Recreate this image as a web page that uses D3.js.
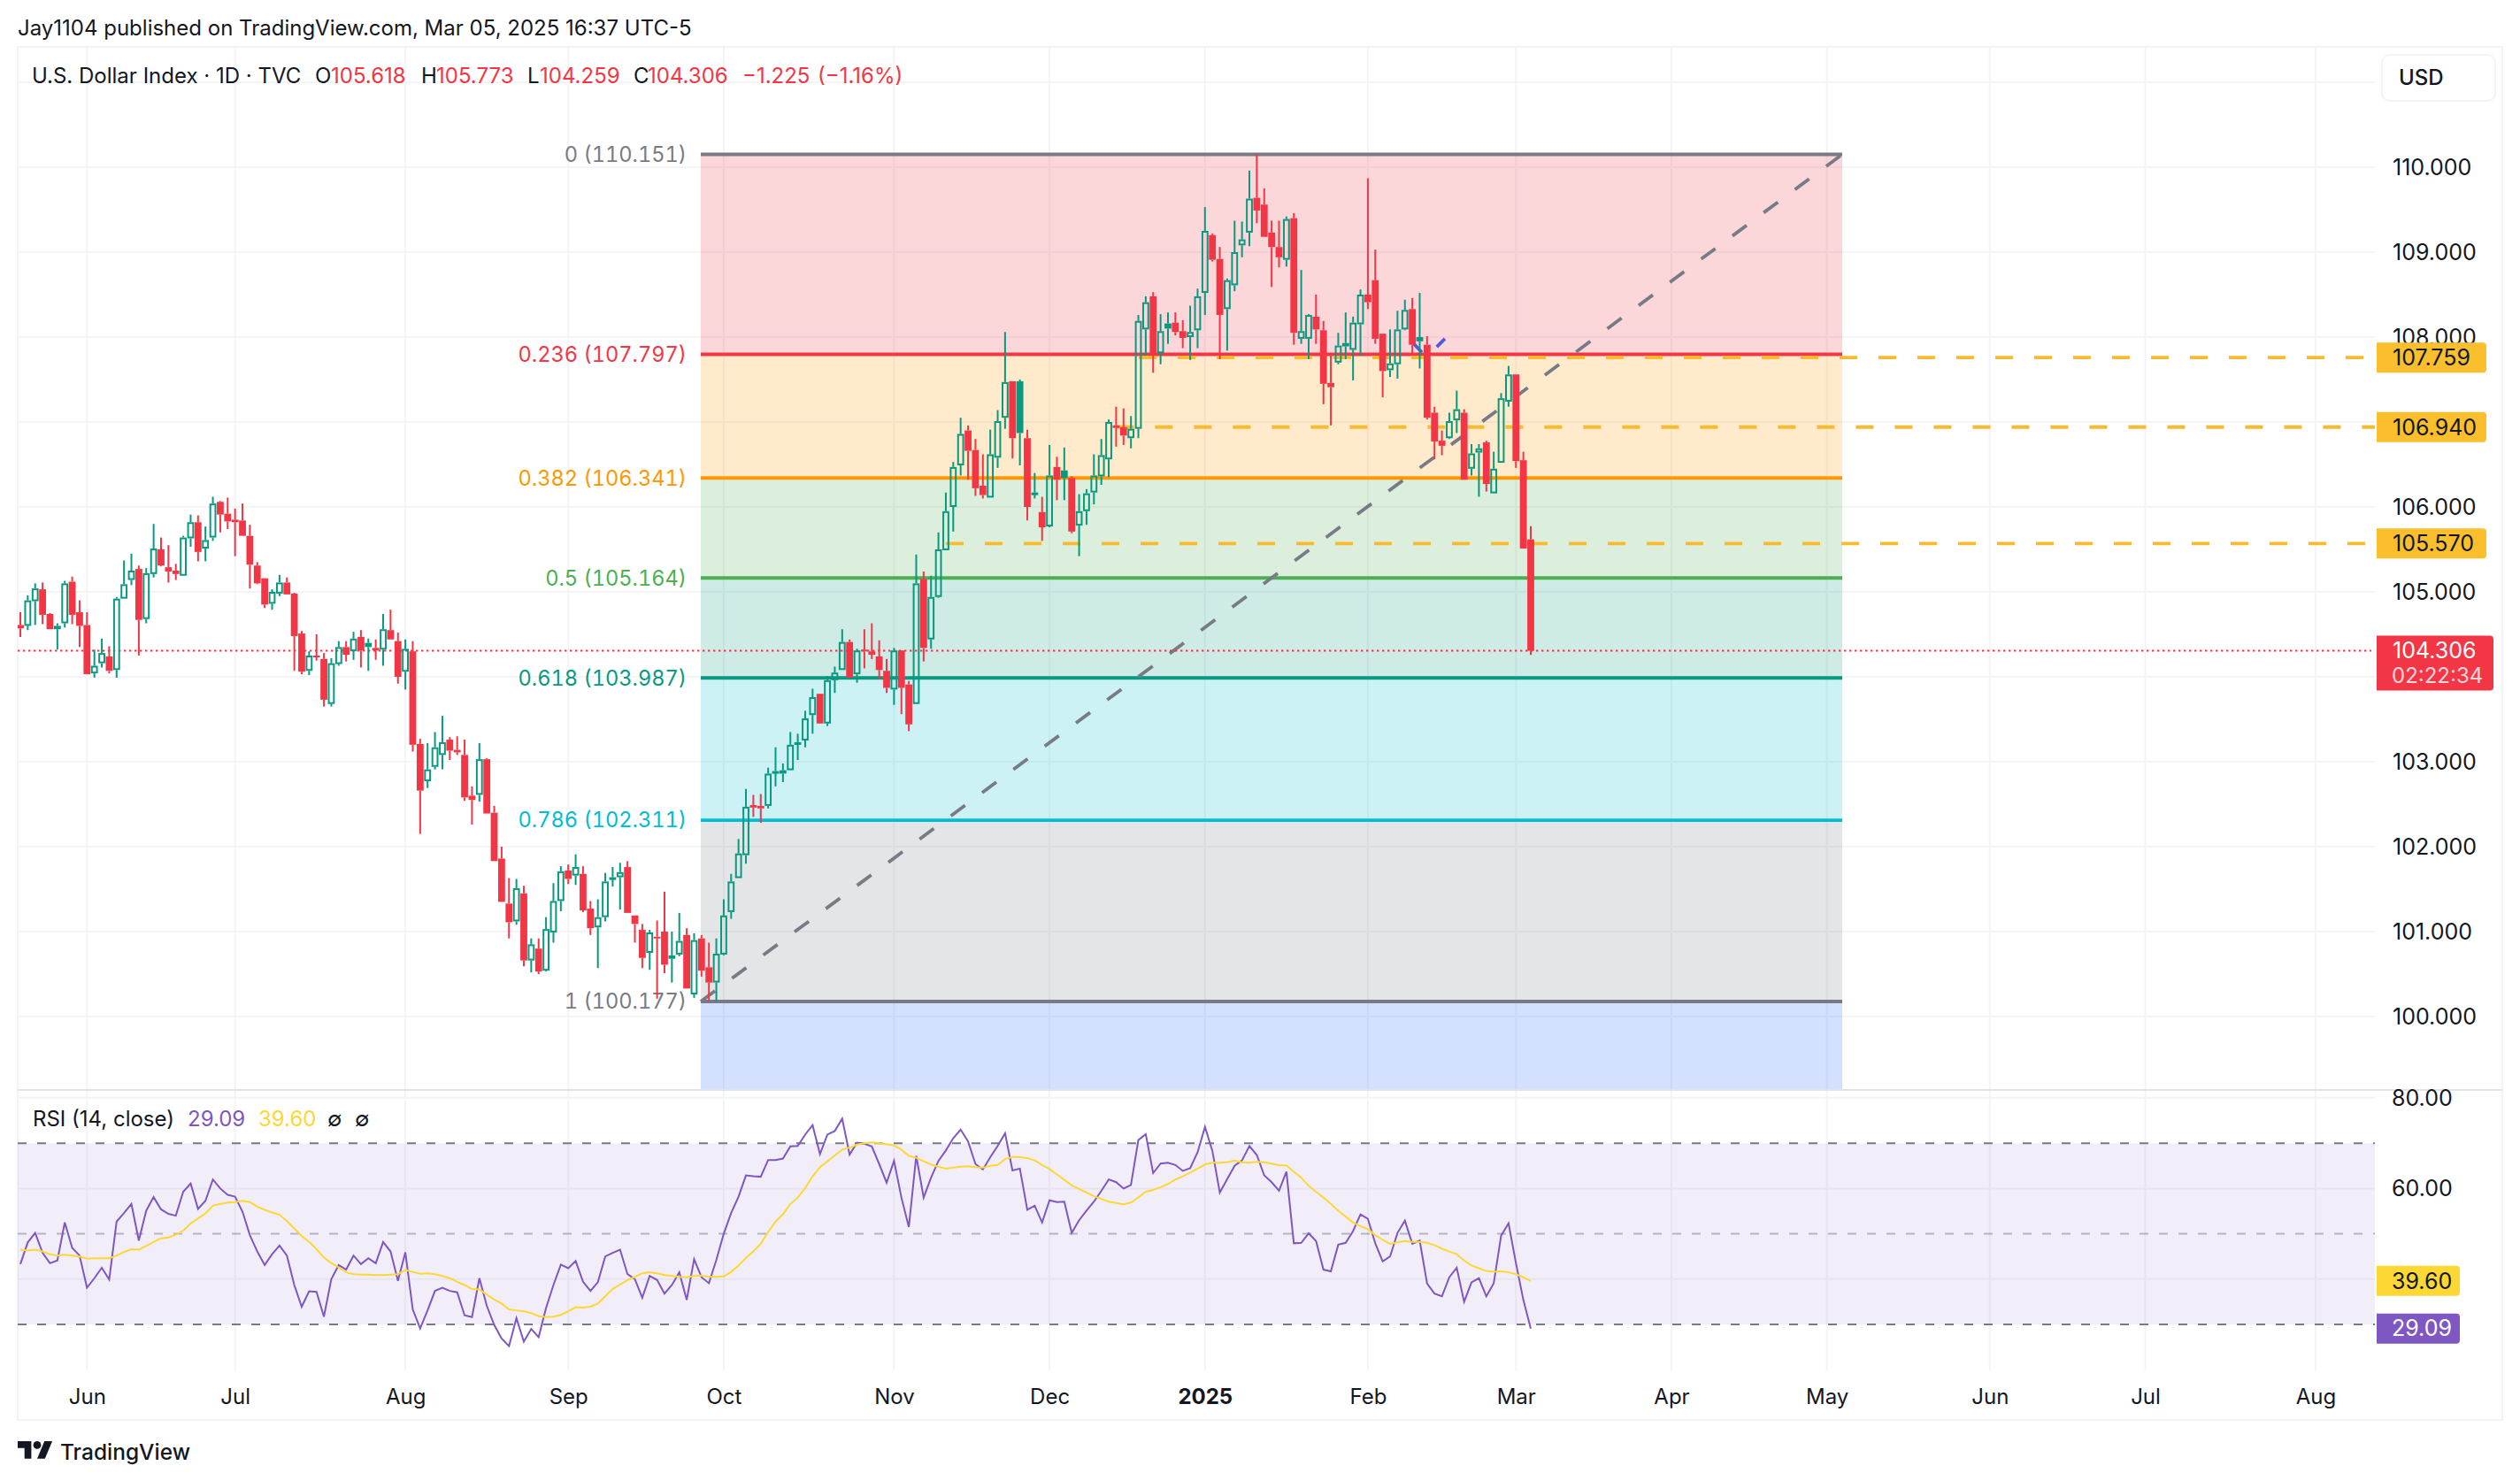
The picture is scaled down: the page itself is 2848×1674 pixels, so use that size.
<!DOCTYPE html>
<html>
<head>
<meta charset="utf-8">
<script src="https://d3js.org/d3.v7.min.js"></script>
<style>
  html, body { margin: 0; padding: 0; background: #fff; }
  svg { display: block; }
  text { font-family: Inter, "Noto Sans", sans-serif; fill: #131722; }
  text.fib { font-feature-settings: "tnum"; font-variant-numeric: tabular-nums; }
</style>
</head>
<body>
<div id="chart"></div>
<script>
// daily candles, U.S. Dollar Index
var open = [
  104.61,104.60,104.89,105.03,104.74,104.60,104.63,105.12,104.76,104.61,
  104.04,104.16,104.24,104.08,104.92,105.14,105.27,104.68,105.21,105.50,
  105.29,105.25,105.19,105.63,105.82,105.51,105.64,106.06,105.92,105.85,
  105.84,105.66,105.31,105.16,104.86,104.98,105.11,104.98,104.51,104.07,
  104.25,104.21,103.68,104.15,104.35,104.30,104.47,104.40,104.34,104.32,
  104.55,104.42,104.06,104.30,103.21,102.77,102.94,103.08,103.26,103.14,
  103.08,102.60,102.61,103.03,102.40,101.86,101.33,101.12,101.45,100.66,
  100.80,100.54,100.99,101.36,101.72,101.66,101.68,101.27,101.05,101.17,
  101.62,101.64,101.76,101.19,101.02,100.75,100.94,101.00,100.68,100.73,
  100.96,100.26,100.92,100.58,100.40,100.73,101.23,101.63,101.90,102.49,
  102.48,102.48,102.87,102.86,102.90,103.21,103.25,103.55,103.80,103.45,
  103.96,104.08,104.41,104.03,104.32,104.30,104.24,104.07,103.85,104.31,
  103.91,103.68,105.15,104.44,104.94,105.49,106.00,106.49,106.90,106.67,
  106.25,106.11,106.58,107.05,107.48,107.48,106.81,106.15,105.94,105.77,
  106.47,106.43,106.34,105.78,105.95,106.17,106.36,106.56,106.96,106.94,
  106.81,106.92,108.09,108.48,107.81,108.16,108.17,108.07,108.00,108.08,
  108.52,109.20,108.92,108.33,108.61,109.08,109.23,109.64,109.56,109.23,
  109.06,108.91,109.40,107.98,107.98,108.24,108.08,107.46,107.70,107.89,
  107.85,108.15,108.50,108.67,108.04,107.61,107.68,108.09,108.33,108.00,
  107.91,107.11,106.78,106.81,107.02,107.11,106.45,106.64,106.76,106.16,
  106.52,107.24,107.56,106.55,105.618];
var high = [
  104.76,104.96,105.10,105.11,104.75,104.63,105.13,105.18,104.90,104.76,
  104.32,104.45,104.36,104.94,105.37,105.45,105.31,105.28,105.80,105.64,
  105.55,105.33,105.66,105.91,105.90,105.77,106.12,106.07,106.11,105.98,
  106.04,105.79,105.35,105.16,105.03,105.20,105.17,104.99,104.54,104.30,
  104.50,104.28,104.22,104.42,104.42,104.53,104.55,104.45,104.44,104.74,
  104.79,104.52,104.44,104.42,103.27,103.22,103.35,103.54,103.29,103.30,
  103.26,102.71,103.22,103.04,102.48,102.00,101.63,101.62,101.54,100.92,
  100.92,101.17,101.57,101.77,101.79,101.91,101.77,101.36,101.38,101.69,
  101.76,101.81,101.83,101.19,101.09,101.02,101.13,101.47,101.00,101.22,
  101.04,100.98,100.96,100.87,100.92,101.38,101.68,102.09,102.68,102.61,
  102.62,102.93,103.17,102.98,103.35,103.33,103.60,103.86,103.80,104.01,
  104.12,104.56,104.44,104.33,104.56,104.63,104.43,104.21,104.34,104.31,
  103.95,105.44,105.24,105.19,105.70,106.17,106.53,107.05,106.96,106.80,
  106.62,106.91,107.14,108.06,107.48,107.50,106.91,106.40,106.12,106.73,
  106.59,106.70,106.36,106.15,106.21,106.62,106.80,107.03,107.18,107.16,
  107.07,108.26,108.48,108.53,108.27,108.29,108.29,108.20,108.37,108.57,
  109.53,109.22,109.06,108.69,109.37,109.36,109.96,110.15,109.75,109.37,
  109.37,109.42,109.46,108.79,108.27,108.50,108.19,107.81,108.05,108.29,
  108.24,108.56,109.87,109.03,108.04,108.09,108.31,108.44,108.46,108.52,
  108.01,107.18,106.90,107.11,107.37,107.15,106.74,106.74,106.78,106.65,
  107.34,107.66,107.56,106.65,105.773];
var low = [
  104.47,104.55,104.61,104.62,104.56,104.32,104.58,104.62,104.35,104.03,
  103.99,104.11,104.04,103.99,104.92,105.08,104.25,104.63,105.17,105.30,
  105.11,105.14,105.19,105.53,105.36,105.36,105.60,105.70,105.74,105.42,
  105.66,105.04,105.09,104.81,104.79,104.95,104.97,104.07,104.03,104.02,
  104.19,103.65,103.65,104.13,104.18,104.20,104.11,104.07,104.20,104.13,
  104.44,103.92,103.85,103.12,102.15,102.69,102.91,102.91,103.02,103.08,
  102.54,102.26,102.53,102.39,101.83,101.35,100.92,101.08,100.59,100.52,
  100.50,100.53,100.87,101.24,101.56,101.55,101.23,100.96,100.57,101.12,
  101.53,101.26,101.22,100.87,100.57,100.55,100.21,100.51,100.40,100.71,
  100.33,100.22,100.47,100.18,100.18,100.72,101.15,101.63,101.80,102.35,
  102.28,102.45,102.71,102.76,102.90,103.02,103.17,103.33,103.45,103.42,
  103.81,104.08,103.99,103.93,104.10,104.21,103.97,103.81,103.67,103.56,
  103.36,103.68,104.18,104.33,104.93,105.49,105.71,106.37,106.32,106.13,
  106.10,106.11,106.46,106.92,106.57,106.49,105.84,106.10,105.60,105.76,
  106.08,106.08,105.69,105.42,105.79,106.03,106.26,106.35,106.71,106.73,
  106.69,106.81,107.78,107.58,107.68,107.92,108.02,107.87,107.73,107.87,
  108.26,108.89,107.74,107.84,108.54,108.94,109.07,109.34,109.18,108.59,
  108.82,108.83,107.91,107.92,107.74,107.92,107.21,106.96,107.68,107.74,
  107.49,107.78,108.33,107.92,107.29,107.53,107.51,108.08,107.80,107.63,
  107.03,106.56,106.61,106.80,106.87,106.32,106.37,106.12,106.18,106.16,
  106.52,107.18,106.46,105.51,104.259];
var close = [
  104.57,104.90,105.04,104.73,104.56,104.56,105.10,104.73,104.60,104.03,
  104.13,104.28,104.07,104.92,105.09,105.25,104.67,105.22,105.51,105.31,
  105.24,105.21,105.64,105.82,105.47,105.61,106.04,105.91,105.83,105.82,
  105.66,105.32,105.10,104.85,105.00,105.11,104.97,104.48,104.06,104.25,
  104.23,103.73,104.16,104.35,104.26,104.45,104.31,104.35,104.31,104.56,
  104.44,104.00,104.33,103.20,102.66,102.91,103.17,103.23,103.13,103.11,
  102.58,102.55,103.03,102.39,101.83,101.35,101.11,101.51,100.66,100.85,
  100.53,101.03,101.36,101.71,101.62,101.76,101.25,101.04,101.17,101.59,
  101.64,101.70,101.22,101.09,100.69,100.99,100.92,100.61,100.72,100.89,
  100.33,100.90,100.54,100.40,100.74,101.19,101.59,101.92,102.47,102.46,
  102.45,102.86,102.89,102.90,103.20,103.23,103.51,103.76,103.45,103.96,
  104.05,104.41,103.99,104.31,104.30,104.26,104.08,103.87,104.31,103.87,
  103.44,105.10,104.34,104.94,105.50,105.95,106.47,106.86,106.66,106.22,
  106.14,106.62,107.01,107.47,106.81,106.87,106.00,106.17,105.76,106.37,
  106.32,106.34,105.71,105.95,106.16,106.37,106.61,107.00,106.93,106.84,
  106.92,108.19,108.41,107.79,108.07,108.10,108.06,107.99,108.06,108.48,
  109.25,108.91,108.26,108.67,109.00,109.15,109.63,109.49,109.18,109.06,
  108.94,109.39,108.05,108.07,108.26,108.09,107.45,107.41,107.90,107.93,
  108.17,108.50,108.41,107.98,107.60,107.69,108.09,108.32,107.91,107.95,
  107.05,106.77,106.72,107.01,107.15,106.32,106.63,106.69,106.27,106.45,
  107.28,107.56,106.54,105.51,104.306];

var rsi = [
  43.3,48.1,50.2,45.8,43.5,44.1,52.5,46.9,45.2,38.1,
  40.2,42.5,39.9,52.7,54.6,56.6,48.5,55.1,58.1,55.4,
  54.4,54.0,59.3,61.1,55.5,57.3,62.0,60.0,58.6,58.2,
  54.9,49.7,46.1,43.1,45.5,47.4,45.2,38.7,33.9,37.3,
  37.2,31.7,40.0,43.1,42.1,45.2,43.3,44.6,43.5,48.2,
  46.1,39.6,45.9,33.3,29.1,33.1,37.4,38.1,37.4,37.1,
  32.0,31.6,40.2,34.1,29.9,26.9,25.2,31.4,26.2,29.0,
  27.2,33.6,38.7,43.2,42.4,44.0,39.4,37.4,39.3,45.0,
  45.8,46.5,41.1,40.0,35.9,40.7,39.8,36.8,38.7,41.5,
  35.4,44.4,40.4,39.1,44.2,50.0,54.6,58.2,62.9,62.7,
  62.6,66.3,66.3,66.6,69.3,69.4,71.9,74.0,67.6,71.9,
  72.7,75.4,67.5,70.1,69.9,69.3,65.4,61.3,66.1,58.0,
  51.5,67.2,58.0,62.4,66.1,68.4,71.1,73.0,70.4,65.4,
  64.2,66.9,69.4,72.2,64.0,64.4,55.3,56.2,52.5,57.4,
  57.0,57.1,50.2,53.0,55.1,57.1,59.5,62.0,61.4,60.0,
  60.8,70.7,72.0,63.4,65.5,65.7,65.2,63.9,64.5,68.0,
  73.6,68.3,59.1,62.1,65.0,66.2,69.4,67.4,62.9,61.4,
  59.5,63.7,47.9,48.0,50.1,48.4,42.1,41.7,47.6,48.0,
  50.6,54.3,53.3,47.9,43.9,45.0,50.2,52.9,47.8,48.5,
  39.0,36.8,36.2,40.4,42.5,35.0,39.3,40.2,36.2,39.1,
  49.6,52.3,43.5,35.4,29.09];
var rsiMa = [
  46.5,46.3,46.5,46.1,45.5,45.2,45.4,45.2,45.0,44.5,
  44.6,44.6,44.6,45.2,46.0,46.6,46.5,47.3,48.2,49.0,
  49.2,49.8,50.7,52.3,53.4,54.5,56.2,56.6,56.9,57.0,
  57.3,57.0,56.0,55.3,54.7,54.2,52.8,51.2,49.5,48.2,
  46.6,44.8,43.5,42.6,41.5,41.1,41.0,41.0,40.9,40.9,
  41.0,41.1,42.0,41.6,41.2,41.3,41.1,40.7,40.2,39.4,
  38.7,37.8,37.7,36.6,35.5,34.6,33.3,33.1,32.9,32.5,
  31.8,31.6,31.7,32.1,32.9,33.8,33.7,33.9,34.6,36.2,
  37.8,38.8,39.8,40.5,41.3,41.5,41.3,40.9,40.7,40.5,
  40.4,40.7,40.8,40.5,40.5,40.6,41.6,43.0,44.7,46.1,
  47.8,50.4,52.7,54.3,56.6,58.0,60.1,62.7,64.7,66.0,
  67.3,68.6,69.0,69.7,70.0,70.2,70.0,69.8,69.5,68.6,
  67.2,66.8,66.0,65.3,64.8,64.4,64.6,64.8,64.9,64.7,
  64.6,65.0,65.2,66.5,67.0,66.9,66.7,66.2,65.2,64.3,
  63.1,61.9,60.7,59.9,59.1,58.3,57.7,57.1,56.8,56.5,
  56.9,58.0,59.3,59.7,60.3,61.0,62.0,62.7,63.5,64.4,
  65.3,65.7,65.7,65.8,66.2,65.8,65.7,65.9,65.8,65.5,
  65.1,65.1,63.7,62.4,60.6,59.3,58.0,56.6,55.1,53.8,
  52.5,51.7,51.0,49.7,48.7,47.8,48.1,48.4,48.2,48.2,
  48.0,47.5,46.7,46.1,45.5,44.1,43.0,42.4,41.8,41.6,
  41.7,41.5,41.1,40.4,39.6];

var monthTicks = [9,29,52,74,95,118,139,160,182,202,223,244,266,287,310];
var monthLabels = ["Jun","Jul","Aug","Sep","Oct","Nov","Dec","2025","Feb","Mar","Apr","May","Jun","Jul","Aug"];
// 104, 107 and 40 sit fully behind the value tags, so they get no label
var priceTicks = [100,101,102,103,105,106,108,109,110];
var priceGrid = [100,101,102,103,104,105,106,107,108,109,110,111];
var rsiTicks = [80,60];
var rsiGrid = [80,60,40];

var fibRatios = ["0","0.236","0.382","0.5","0.618","0.786","1"];
var fibPrices = [110.151,107.797,106.341,105.164,103.987,102.311,100.177];
var fibColors = ["#787b86","#f23645","#ff9800","#4caf50","#089981","#00bcd4","#787b86"];
var fibFills = ["#f23645","#ff9800","#4caf50","#089981","#00bcd4","#787b86","#2962ff"];

// horizontal levels drawn by the author, each starts at a bar index
var levelPrices = [107.759,106.940,105.570];
var levelStarts = [151.05,148,125];
var lastPrice = 104.306;
var lastRsi = 29.09, lastMa = 39.60;

// short blue dashed segments near the top of the trend line
var blueA = {idx: [188.2,189.3], price: [107.92,107.82]};
var blueB = {idx: [191.3,192.4], price: [107.885,107.98]};

var W = 2848, H = 1674;
var left = 20, right = 2828, top_ = 53, bottom = 1605;
var paneRight = 2684, mainBottom = 1232, rsiBottom = 1549;
var red = "#f23645", green = "#089981";

var x = d3.scaleLinear().domain([0,204]).range([23,1730]);
var y = d3.scaleLinear().domain([100,110]).range([1149,189]);
var yRsi = d3.scaleLinear().domain([80,30]).range([1241,1497]);

var svg = d3.select("#chart").append("svg")
  .attr("width", W).attr("height", H).attr("viewBox", "0 0 " + W + " " + H);

svg.append("clipPath").attr("id","mainClip").append("rect")
  .attr("x",left).attr("y",top_).attr("width",paneRight-left).attr("height",mainBottom-top_);
svg.append("clipPath").attr("id","rsiClip").append("rect")
  .attr("x",left).attr("y",mainBottom).attr("width",paneRight-left).attr("height",rsiBottom-mainBottom);

// frame and separators
svg.append("rect").attr("x",left).attr("y",top_).attr("width",right-left).attr("height",bottom-top_)
  .attr("fill","none").attr("stroke","#f2f3f5").attr("stroke-width",2);

// grid
var grid = svg.append("g").attr("stroke","#f3f4f6").attr("stroke-width",2);
grid.selectAll("line.h").data(priceGrid).enter().append("line").attr("class","h")
  .attr("x1",left).attr("x2",paneRight)
  .attr("y1",function(d){ return y(d); }).attr("y2",function(d){ return y(d); });
grid.selectAll("line.r").data(rsiGrid).enter().append("line").attr("class","r")
  .attr("x1",left).attr("x2",paneRight)
  .attr("y1",function(d){ return yRsi(d); }).attr("y2",function(d){ return yRsi(d); });
grid.selectAll("line.v").data(monthTicks).enter().append("line").attr("class","v")
  .attr("x1",function(d){ return x(d); }).attr("x2",function(d){ return x(d); })
  .attr("y1",top_).attr("y2",rsiBottom);
svg.append("line").attr("x1",left).attr("x2",right).attr("y1",mainBottom).attr("y2",mainBottom)
  .attr("stroke","#e0e3eb").attr("stroke-width",2);

// fib fills
var fibLeft = 792, fibRight = 2082;
var fib = svg.append("g").attr("clip-path","url(#mainClip)");
fib.selectAll("rect").data(fibFills).enter().append("rect")
  .attr("x",fibLeft).attr("width",fibRight-fibLeft)
  .attr("y",function(d,i){ return y(fibPrices[i]); })
  .attr("height",function(d,i){
    var b = i < fibPrices.length-1 ? y(fibPrices[i+1]) : mainBottom-1;
    return b - y(fibPrices[i]);
  })
  .attr("fill",function(d){ return d; }).attr("fill-opacity",0.2);

// trend line across the fib
svg.append("line")
  .attr("x1",fibLeft).attr("y1",y(fibPrices[6])).attr("x2",fibRight).attr("y2",y(fibPrices[0]))
  .attr("stroke","#787b86").attr("stroke-width",3.8).attr("stroke-dasharray","20 24");

// fib lines
fib.selectAll("line").data(fibPrices).enter().append("line")
  .attr("x1",fibLeft).attr("x2",fibRight)
  .attr("y1",function(d){ return y(d); }).attr("y2",function(d){ return y(d); })
  .attr("stroke",function(d,i){ return fibColors[i]; }).attr("stroke-width",3.8);

svg.selectAll("text.fib").data(fibPrices).enter().append("text").attr("class","fib")
  .attr("x",776).attr("y",function(d){ return y(d); }).attr("dy","0.35em")
  .attr("text-anchor","end").attr("font-size",23.6)
  .style("fill",function(d,i){ return fibColors[i]; })
  .text(function(d,i){ return fibRatios[i] + " (" + d3.format(".3f")(d) + ")"; });

// dashed levels
svg.selectAll("line.level").data(levelPrices).enter().append("line").attr("class","level")
  .attr("x1",function(d,i){ return x(levelStarts[i]); }).attr("x2",paneRight)
  .attr("y1",function(d){ return y(d); }).attr("y2",function(d){ return y(d); })
  .attr("stroke","#fbb92d").attr("stroke-width",3.8).attr("stroke-dasharray","20 24");

// last price dotted line
svg.append("line").attr("x1",left).attr("x2",2680)
  .attr("y1",y(lastPrice)).attr("y2",y(lastPrice))
  .attr("stroke",red).attr("stroke-width",2).attr("stroke-dasharray","2.4 3.6");

// blue dashes
var blueLine = d3.line().x(function(d){ return x(d[0]); }).y(function(d){ return y(d[1]); });
[blueA,blueB].forEach(function(s){
  svg.append("path").attr("d",blueLine(d3.zip(s.idx,s.price)))
    .attr("stroke","#4f5bdc").attr("stroke-width",3.8).attr("fill","none");
});

// candles
var bars = d3.range(open.length).map(function(i){
  return {i:i, o:open[i], h:high[i], l:low[i], c:close[i], prev: i>0 ? close[i-1] : open[i]};
});
function barColor(d){ return d.c >= d.prev ? green : red; }
var bodyW = 7.8;

var candles = svg.append("g").attr("clip-path","url(#mainClip)");
var candle = candles.selectAll("g").data(bars).enter().append("g");
candle.append("line")
  .attr("x1",function(d){ return x(d.i); }).attr("x2",function(d){ return x(d.i); })
  .attr("y1",function(d){ return y(d.h); }).attr("y2",function(d){ return y(Math.max(d.o,d.c)); })
  .attr("stroke",barColor).attr("stroke-width",2);
candle.append("line")
  .attr("x1",function(d){ return x(d.i); }).attr("x2",function(d){ return x(d.i); })
  .attr("y1",function(d){ return y(Math.min(d.o,d.c)); }).attr("y2",function(d){ return y(d.l); })
  .attr("stroke",barColor).attr("stroke-width",2);
candle.append("rect")
  .attr("x",function(d){ return d.c > d.o ? x(d.i)-bodyW/2+1 : x(d.i)-bodyW/2; })
  .attr("width",function(d){ return d.c > d.o ? bodyW-2 : bodyW; })
  .attr("y",function(d){ return y(Math.max(d.o,d.c)) + (d.c > d.o ? 1 : 0); })
  .attr("height",function(d){
    var h = Math.abs(y(d.o)-y(d.c));
    return d.c > d.o ? Math.max(h-2,1) : Math.max(h,2);
  })
  .attr("fill",function(d){ return d.c > d.o ? "none" : barColor(d); })
  .attr("stroke",function(d){ return d.c > d.o ? barColor(d) : "none"; })
  .attr("stroke-width",2);

// price axis
var priceAxis = svg.append("g").attr("transform","translate(2704,0)")
  .call(d3.axisRight(y).tickValues(priceTicks).tickSize(0).tickPadding(0).tickFormat(d3.format(".3f")));
priceAxis.select(".domain").remove();
priceAxis.selectAll("text").attr("font-size",25).attr("font-family",null);

function tagPath(x0,y0,w,h,r){
  var p = d3.path();
  p.moveTo(x0,y0);
  p.lineTo(x0+w-r,y0);
  p.quadraticCurveTo(x0+w,y0,x0+w,y0+r);
  p.lineTo(x0+w,y0+h-r);
  p.quadraticCurveTo(x0+w,y0+h,x0+w-r,y0+h);
  p.lineTo(x0,y0+h);
  p.closePath();
  return p.toString();
}

// level tags on the axis
levelPrices.forEach(function(p){
  var cy = y(p);
  svg.append("path").attr("d",tagPath(2686,cy-17,124,34,4)).attr("fill","#fbbf2d");
  svg.append("text").attr("x",2704).attr("y",cy).attr("dy","0.35em").attr("font-size",25)
    .text(d3.format(".3f")(p));
});

// last price tag with the countdown
svg.append("path").attr("d",tagPath(2686,y(lastPrice)-17,132,62,4)).attr("fill",red);
svg.append("text").attr("x",2704).attr("y",y(lastPrice)).attr("dy","0.35em").attr("font-size",25)
  .style("fill","#fff").text(d3.format(".3f")(lastPrice));
svg.append("text").attr("x",2703).attr("y",y(lastPrice)+28).attr("dy","0.35em").attr("font-size",24)
  .style("fill","#fff").style("fill-opacity",0.8).text("02:22:34");

// USD button
svg.append("rect").attr("x",2692).attr("y",62).attr("width",128).attr("height",52).attr("rx",9)
  .attr("fill","#fff").attr("stroke","#f0f3fa").attr("stroke-width",2);
svg.append("text").attr("x",2711).attr("y",88).attr("dy","0.35em").attr("font-size",24).attr("font-weight",500).text("USD");

// RSI pane
var rsiPane = svg.append("g");
rsiPane.append("rect").attr("x",left).attr("width",paneRight-left)
  .attr("y",yRsi(70)).attr("height",yRsi(30)-yRsi(70))
  .attr("fill","#7e57c2").attr("fill-opacity",0.1);
[70,50,30].forEach(function(v){
  rsiPane.append("line").attr("x1",left).attr("x2",paneRight)
    .attr("y1",yRsi(v)).attr("y2",yRsi(v))
    .attr("stroke","#787b86").attr("stroke-width",2).attr("stroke-dasharray","10 12")
    .attr("stroke-opacity", v === 50 ? 0.5 : 1);
});
var rsiLine = d3.line().x(function(d,i){ return x(i); }).y(function(d){ return yRsi(d); });
var rsiG = svg.append("g").attr("clip-path","url(#rsiClip)");
rsiG.append("path").attr("d",rsiLine(rsi)).attr("fill","none").attr("stroke","#7e57c2").attr("stroke-width",2);
rsiG.append("path").attr("d",rsiLine(rsiMa)).attr("fill","none").attr("stroke","#fdd835").attr("stroke-width",2);

var rsiAxis = svg.append("g").attr("transform","translate(2703,0)")
  .call(d3.axisRight(yRsi).tickValues(rsiTicks).tickSize(0).tickPadding(0).tickFormat(d3.format(".2f")));
rsiAxis.select(".domain").remove();
rsiAxis.selectAll("text").attr("font-size",25).attr("font-family",null);

svg.append("path").attr("d",tagPath(2686,yRsi(lastMa)-17,94,34,4)).attr("fill","#fdd835");
svg.append("text").attr("x",2703).attr("y",yRsi(lastMa)).attr("dy","0.35em").attr("font-size",25)
  .text(d3.format(".2f")(lastMa));
svg.append("path").attr("d",tagPath(2686,yRsi(lastRsi)-17,94,34,4)).attr("fill","#7e57c2");
svg.append("text").attr("x",2703).attr("y",yRsi(lastRsi)).attr("dy","0.35em").attr("font-size",25)
  .style("fill","#fff").text(d3.format(".2f")(lastRsi));

// time axis
var timeAxis = svg.append("g").attr("transform","translate(0,1549)")
  .call(d3.axisBottom(x).tickValues(monthTicks).tickSize(0).tickFormat(function(d,i){ return monthLabels[i]; }));
timeAxis.select(".domain").remove();
timeAxis.selectAll("text").attr("y",30).attr("dy","0.35em").attr("font-size",24).attr("font-family",null)
  .attr("font-weight",function(d,i){ return monthLabels[i] === "2025" ? 700 : 400; });

// header and legends
function label(xp, yp, str, color, size){
  return svg.append("text").attr("x",xp).attr("y",yp).attr("dy","0.35em")
    .attr("font-size",size || 24).style("fill",color || "#131722").text(str);
}
label(20,32,"Jay1104 published on TradingView.com, Mar 05, 2025 16:37 UTC-5");
label(36,86,"U.S. Dollar Index · 1D · TVC");
label(356,86,"O"); label(374,86,"105.618",red);
label(476,86,"H"); label(493,86,"105.773",red);
label(596,86,"L"); label(610,86,"104.259",red);
label(716,86,"C"); label(732,86,"104.306",red);
label(839,86,"−1.225",red); label(924,86,"(−1.16%)",red);

label(37,1265,"RSI (14, close)");
label(212,1265,"29.09","#7e57c2");
label(292,1265,"39.60","#fdd835");
label(370,1265,"∅"); label(401,1265,"∅");

// footer logo
var logo = svg.append("g").attr("transform","translate(20,1624.6) scale(1.1)").attr("fill","#131722");
logo.append("path").attr("d","M14 22H7V11H0V4h14v18zM28 22h-8l7.5-18h8L28 22z");
logo.append("circle").attr("cx",20).attr("cy",8).attr("r",4);
label(68,1641,"TradingView","#131722",24.5).attr("font-weight",500);
</script>
</body>
</html>
